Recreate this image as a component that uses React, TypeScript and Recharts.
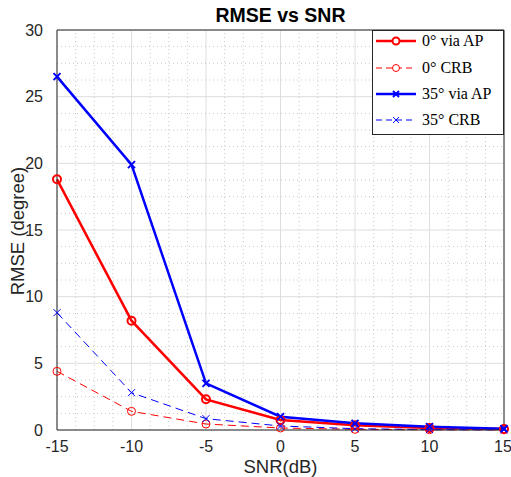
import { LineChart, Line, XAxis, YAxis, CartesianGrid, ReferenceLine } from "recharts";

const snr = [-15, -10, -5, 0, 5, 10, 15];
const ap0 = [18.8, 8.2, 2.3, 0.75, 0.35, 0.15, 0.08];
const crb0 = [4.4, 1.4, 0.45, 0.15, 0.05, 0.02, 0.01];
const ap35 = [26.5, 19.9, 3.5, 1.0, 0.5, 0.25, 0.1];
const crb35 = [8.8, 2.8, 0.85, 0.3, 0.1, 0.03, 0.01];

const xTicks = [-15, -10, -5, 0, 5, 10, 15];
const yTicks = [0, 5, 10, 15, 20, 25, 30];
const xMinor = [-13.75, -12.5, -11.25, -8.75, -7.5, -6.25, -3.75, -2.5, -1.25, 1.25, 2.5, 3.75, 6.25, 7.5, 8.75, 11.25, 12.5, 13.75];
const yMinor = [1.25, 2.5, 3.75, 6.25, 7.5, 8.75, 11.25, 12.5, 13.75, 16.25, 17.5, 18.75, 21.25, 22.5, 23.75, 26.25, 27.5, 28.75];

const series = [
  { key: "ap0", name: "0\u00b0 via AP", color: "#ff0000", width: 2.5, dash: undefined, marker: "o", size: 4 },
  { key: "crb0", name: "0\u00b0 CRB", color: "#ff0000", width: 1, dash: "8 5", marker: "o", size: 4 },
  { key: "ap35", name: "35\u00b0 via AP", color: "#0000ff", width: 2.5, dash: undefined, marker: "x", size: 3.5 },
  { key: "crb35", name: "35\u00b0 CRB", color: "#0000ff", width: 1, dash: "8 5", marker: "x", size: 3.5 },
];

const data = snr.map((s, i) => ({ snr: s, ap0: ap0[i], crb0: crb0[i], ap35: ap35[i], crb35: crb35[i] }));

const font = "'Liberation Sans', Arial, sans-serif";

function makeDot(marker: string, color: string, sw: number, size: number) {
  return (props: any) => {
    const { cx, cy, index } = props;
    if (cx == null || cy == null) return <g key={index} />;
    if (marker === "o") {
      return <circle key={index} cx={cx} cy={cy} r={size} fill="none" stroke={color} strokeWidth={sw} />;
    }
    return (
      <path
        key={index}
        d={`M${cx - size},${cy - size}L${cx + size},${cy + size}M${cx + size},${cy - size}L${cx - size},${cy + size}`}
        stroke={color}
        strokeWidth={sw}
        fill="none"
      />
    );
  };
}

// legend row centres, measured from the top of the box
const rowCentres = [10, 37, 63, 89];

function LegendBox() {
  return (
    <div
      style={{
        position: "absolute",
        top: 30,
        left: 372,
        border: "1px solid #262626",
        background: "#fff",
        width: 132,
        height: 105,
        boxSizing: "border-box",
        fontFamily: "'Liberation Serif', 'DejaVu Serif', serif",
        fontSize: 16,
        color: "#000",
      }}
    >
      {series.map((s, i) => (
        <div
          key={s.key}
          style={{ position: "absolute", left: 2, top: rowCentres[i] - 10, height: 20, display: "flex", alignItems: "center" }}
        >
          <svg width={43} height={14} style={{ marginRight: 4 }}>
            <line x1={1} y1={7} x2={41} y2={7} stroke={s.color} strokeWidth={s.width} strokeDasharray={s.dash ? "6 4" : undefined} />
            {s.marker === "o" ? (
              <circle cx={21} cy={7} r={3.5} fill="#fff" stroke={s.color} strokeWidth={s.width === 1 ? 1 : 2} />
            ) : (
              <path d="M18,4L24,10M24,4L18,10" stroke={s.color} strokeWidth={s.width === 1 ? 1 : 2} />
            )}
          </svg>
          <span style={{ whiteSpace: "pre" }}>{s.name}</span>
        </div>
      ))}
    </div>
  );
}

export default function App() {
  return (
    <div style={{ position: "absolute", left: 0, top: 0, width: 511, height: 477, background: "#fff", fontFamily: font }}>
      <LineChart width={511} height={477} data={data} margin={{ top: 30, right: 7, bottom: 0, left: 0 }}>
        <CartesianGrid stroke="#dedede" strokeWidth={1} />
        {xMinor.map((v) => (
          <ReferenceLine key={"xm" + v} x={v} stroke="#c8c8c8" strokeDasharray="1 3" />
        ))}
        {yMinor.map((v) => (
          <ReferenceLine key={"ym" + v} y={v} stroke="#c8c8c8" strokeDasharray="1 3" />
        ))}
        <XAxis
          dataKey="snr"
          type="number"
          domain={[-15, 15]}
          ticks={xTicks}
          height={47}
          stroke="#262626"
          tickLine={false}
          tick={{ fill: "#262626", fontSize: 16, fontFamily: font }}
          tickMargin={5}
        />
        <YAxis
          type="number"
          domain={[0, 30]}
          ticks={yTicks}
          width={57}
          stroke="#262626"
          tickLine={false}
          tick={{ fill: "#262626", fontSize: 16, fontFamily: font }}
          tickMargin={8}
        />
        <ReferenceLine x={15} stroke="#262626" />
        <ReferenceLine y={30} stroke="#262626" />
        {series.map((s) => (
          <Line
            key={s.key}
            dataKey={s.key}
            name={s.name}
            stroke={s.color}
            strokeWidth={s.width}
            strokeDasharray={s.dash}
            dot={makeDot(s.marker, s.color, s.width === 1 ? 1 : 2, s.size)}
            activeDot={false}
            isAnimationActive={false}
          />
        ))}
      </LineChart>
      <div style={{ position: "absolute", top: 4, left: 57, width: 447, textAlign: "center", fontWeight: "bold", fontSize: 19.5, lineHeight: "22px", color: "#000" }}>
        RMSE vs SNR
      </div>
      <div style={{ position: "absolute", top: 457, left: 57, width: 447, textAlign: "center", fontSize: 18.5, lineHeight: "19px", color: "#262626" }}>
        SNR(dB)
      </div>
      <div
        style={{
          position: "absolute",
          left: 17,
          top: 231,
          transform: "translate(-50%, -50%) rotate(-90deg)",
          whiteSpace: "nowrap",
          fontSize: 18.5,
          lineHeight: "21px",
          color: "#262626",
        }}
      >
        RMSE (degree)
      </div>
      <LegendBox />
    </div>
  );
}
